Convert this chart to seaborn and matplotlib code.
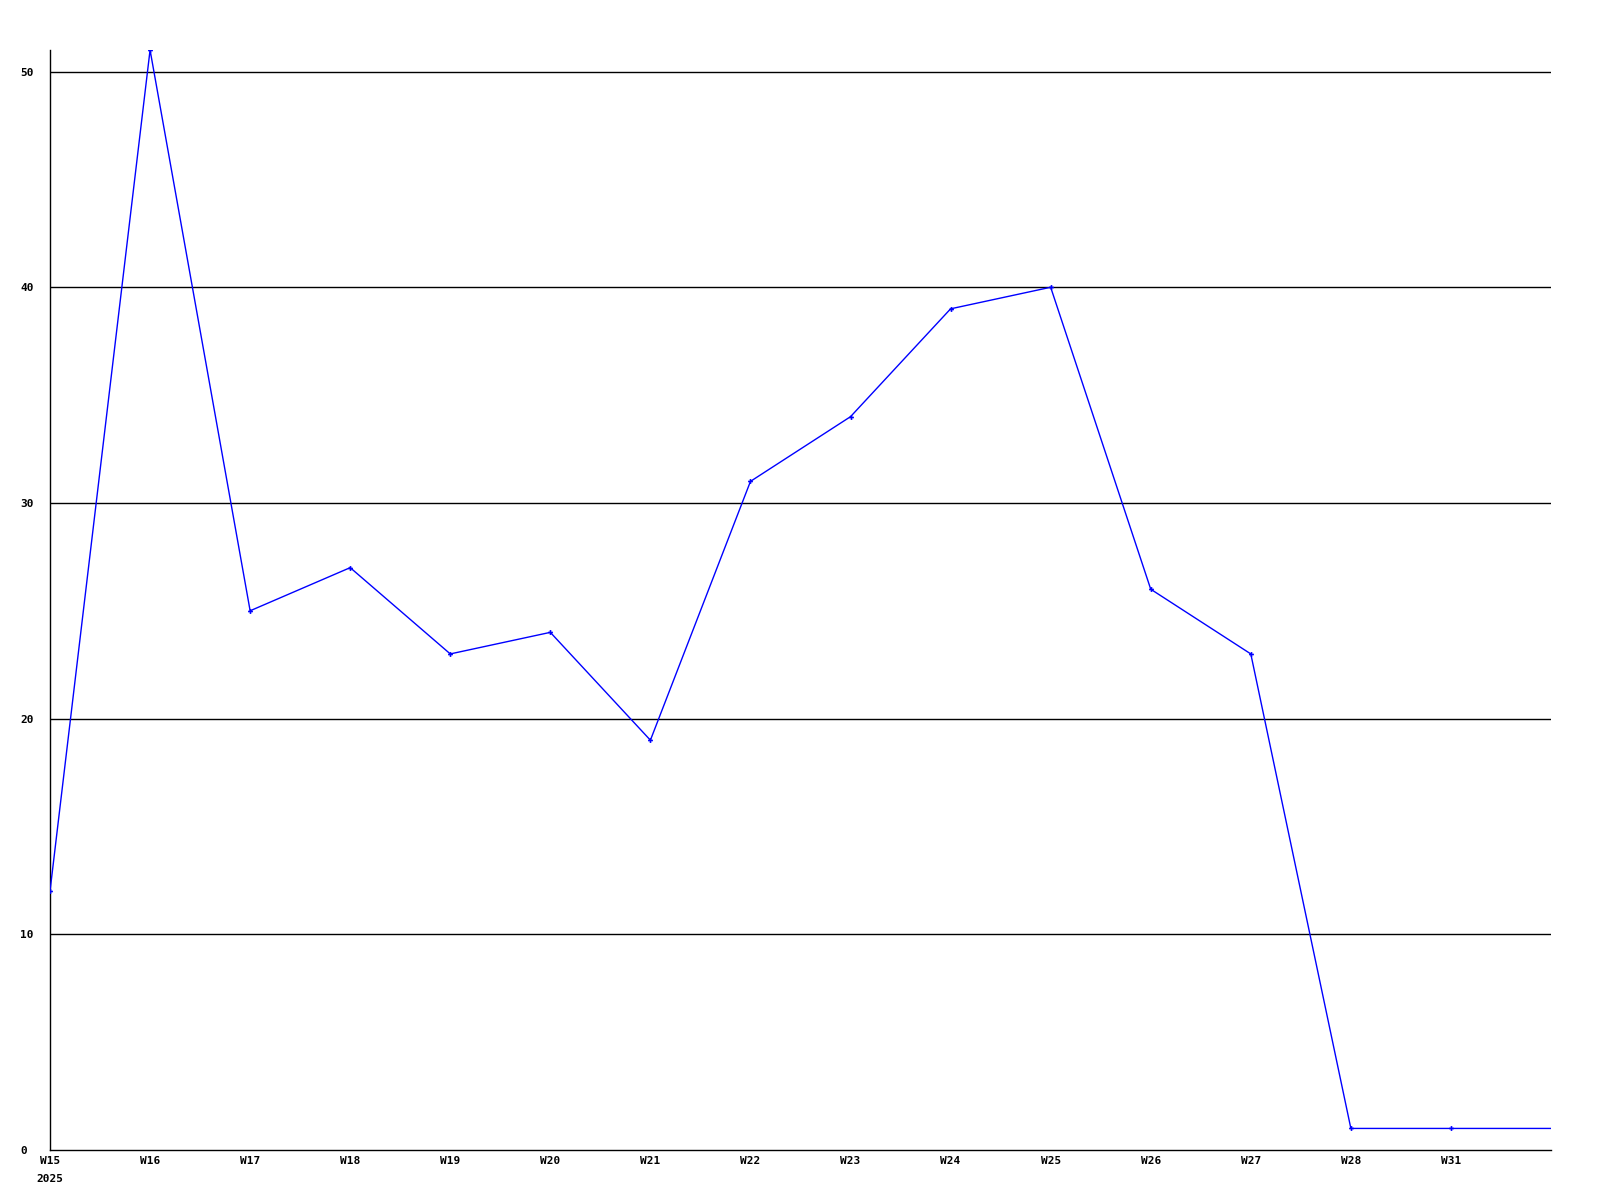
import seaborn as sns
import matplotlib.pyplot as plt
import pandas as pd

weeks = ['W15', 'W16', 'W17', 'W18', 'W19', 'W20', 'W21', 'W22',
         'W23', 'W24', 'W25', 'W26', 'W27', 'W28', 'W31', '']
counts = [12, 51, 25, 27, 23, 24, 19, 31, 34, 39, 40, 26, 23, 1, 1, 1]
yticks = [0, 10, 20, 30, 40, 50]

df = pd.DataFrame({'pos': range(len(weeks)), 'count': counts})

sns.set_style('white')
plt.rcParams['font.family'] = ['DejaVu Sans Mono']
plt.rcParams['text.color'] = 'black'
plt.rcParams['xtick.color'] = 'black'
plt.rcParams['ytick.color'] = 'black'

fig = plt.figure(figsize=(16, 12), dpi=100)
ax = fig.add_axes([50 / 1600, 50 / 1200, 1501 / 1600, 1100 / 1200])

for v in yticks[1:]:
    ax.axhline(v, color='black', lw=1, zorder=1)

sns.lineplot(data=df, x='pos', y='count', ax=ax, color='#0000ff', lw=1,
             marker='P', markersize=3.5, markeredgewidth=0, zorder=3)
# no marker on the last (edge) point
ax.lines[-1].set_markevery(list(range(len(weeks) - 1)))

ax.set_xlim(0, len(weeks) - 1)
ax.set_ylim(0, 51)
ax.set_xticks(range(len(weeks) - 1))
ax.set_xticklabels(weeks[:-1], fontsize=8, fontweight='bold', color='black')
ax.set_yticks(yticks)
ax.set_yticklabels([str(v) for v in yticks], fontsize=8, fontweight='bold',
                   ha='left', color='black')
ax.tick_params(axis='y', length=0, pad=21.5)
ax.tick_params(axis='x', length=0, pad=4)
ax.text(0, -0.022, '2025', transform=ax.get_xaxis_transform(), ha='center',
        va='top', fontsize=8, fontweight='bold', color='black')

for s in ['top', 'right']:
    ax.spines[s].set_visible(False)
for s in ['left', 'bottom']:
    ax.spines[s].set_color('black')
    ax.spines[s].set_linewidth(1)
ax.set_xlabel('')
ax.set_ylabel('')

fig.savefig('out.png', dpi=100)
